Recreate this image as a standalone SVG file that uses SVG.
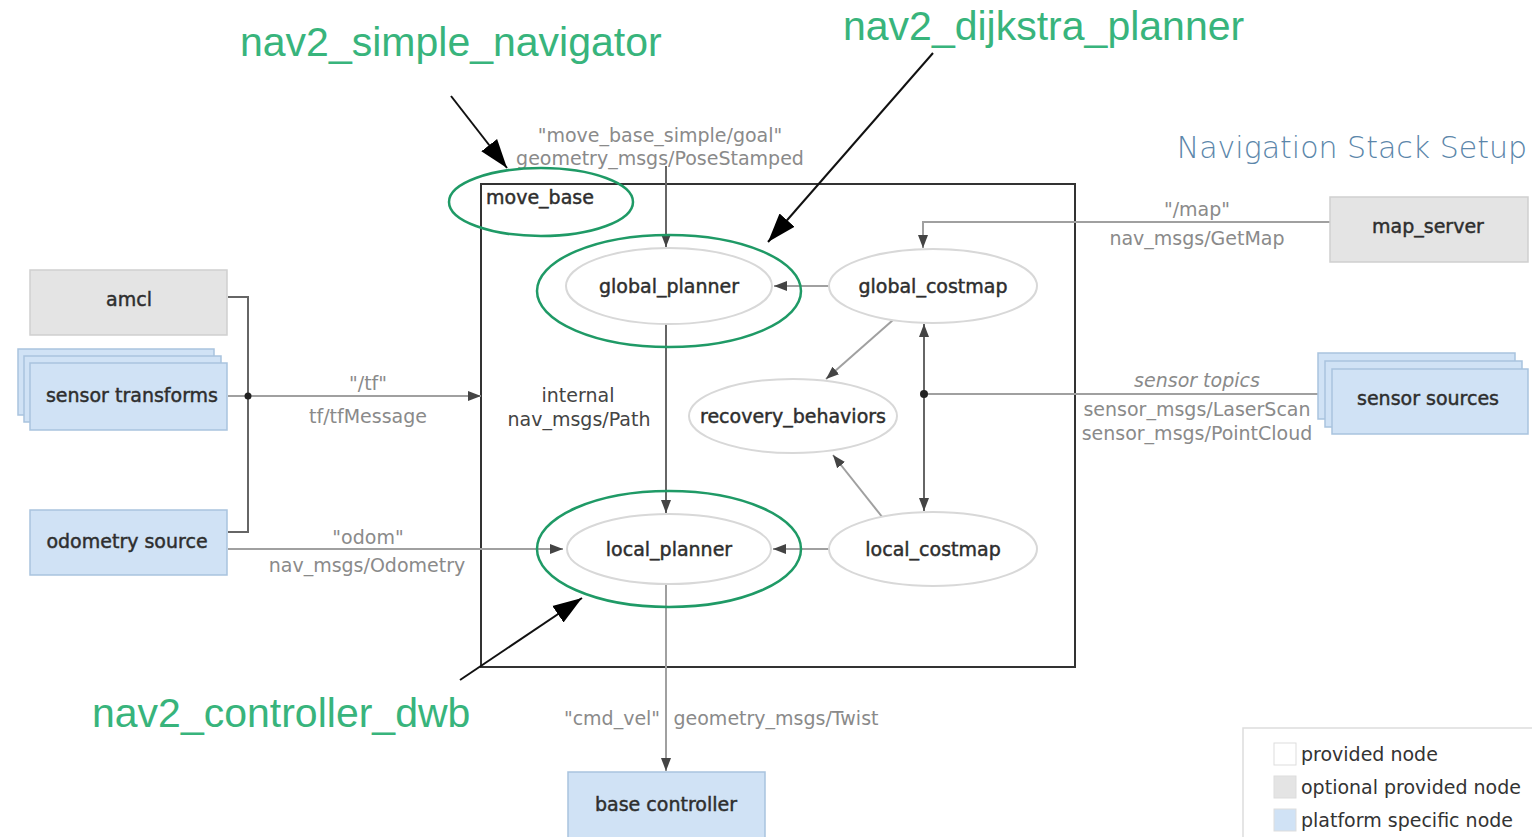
<svg xmlns="http://www.w3.org/2000/svg" width="1532" height="837" viewBox="0 0 1532 837">
  <style>
    .lbl { font-family: "DejaVu Sans", "Liberation Sans", sans-serif; font-size: 19px; fill: #8a8a8a; text-anchor: middle; }
    .node { font-family: "DejaVu Sans", "Liberation Sans", sans-serif; font-size: 19px; fill: #2e2e2e; stroke: #2e2e2e; stroke-width: 0.45; text-anchor: middle; }
    .nav2 { font-family: "Liberation Sans", Arial, sans-serif; font-size: 41px; fill: #38b47c; }
    .gray-box { fill: #e4e4e4; stroke: #cfcfcf; stroke-width: 1.5; }
    .blue-box { fill: #d0e2f5; stroke: #a9c3de; stroke-width: 1.5; }
    .oval { fill: #ffffff; stroke: #d8d8d8; stroke-width: 2; }
    .ring { fill: none; stroke: #1f9a66; stroke-width: 2.5; }
    .edge { fill: none; stroke: #a0a0a0; stroke-width: 2; }
    .edge-dark { fill: none; stroke: #666666; stroke-width: 2; }
    .pointer { fill: none; stroke: #111111; stroke-width: 2; }
    .legend { font-family: "DejaVu Sans", "Liberation Sans", sans-serif; font-size: 19px; fill: #333333; }
  </style>
  <defs>
    <marker id="tip" markerUnits="userSpaceOnUse" markerWidth="14" markerHeight="12" refX="13" refY="6" orient="auto">
      <path d="M0,1 L13,6 L0,11 Z" fill="#444444"/>
    </marker>
    <marker id="bigtip" markerUnits="userSpaceOnUse" markerWidth="30" markerHeight="24" refX="29" refY="12" orient="auto">
      <path d="M0,2 L29,12 L0,22 Z" fill="#000000"/>
    </marker>
  </defs>

  <rect width="1532" height="837" fill="#ffffff"/>

  <!-- move_base container -->
  <g id="move_base">
    <rect x="481" y="184" width="594" height="483" fill="none" stroke="#333333" stroke-width="2"/>
    <text x="486" y="204" class="node" text-anchor="start" style="text-anchor:start">move_base</text>
  </g>

  <!-- connectors -->
  <g id="connectors">
    <!-- goal into global_planner -->
    <path class="edge-dark" d="M666,166 L666,247" marker-end="url(#tip)"/>
    <!-- global_planner to local_planner -->
    <path class="edge-dark" d="M666,324 L666,513" marker-end="url(#tip)"/>
    <!-- local_planner to base controller -->
    <path class="edge" d="M666,585 L666,771" marker-end="url(#tip)"/>
    <!-- costmaps to planners -->
    <path class="edge" d="M829,286 L774,286" marker-end="url(#tip)"/>
    <path class="edge" d="M829,549 L773,549" marker-end="url(#tip)"/>
    <!-- costmaps to recovery -->
    <path class="edge" d="M893,320 L826,379" marker-end="url(#tip)"/>
    <path class="edge" d="M883,518 L833,455" marker-end="url(#tip)"/>
    <!-- map_server to global_costmap -->
    <path class="edge" d="M1330,222 L923,222 L923,248" marker-end="url(#tip)"/>
    <!-- sensor sources to costmaps -->
    <path class="edge" d="M1318,394 L924,394"/>
    <path class="edge-dark" d="M924,394 L924,324" marker-end="url(#tip)"/>
    <path class="edge-dark" d="M924,394 L924,511" marker-end="url(#tip)"/>
    <circle cx="924" cy="394" r="4" fill="#222222"/>
    <!-- tf tree -->
    <path class="edge-dark" d="M228,297 L248,297 L248,532 L228,532" stroke-width="1.5"/>
    <path class="edge" d="M228,396 L248,396"/>
    <path class="edge" d="M248,396 L481,396" marker-end="url(#tip)"/>
    <circle cx="248" cy="396" r="3.5" fill="#222222"/>
    <!-- odometry -->
    <path class="edge" d="M228,549 L563,549" marker-end="url(#tip)"/>

    <!-- edge labels -->
    <text x="660" y="142" class="lbl">"move_base_simple/goal"</text>
    <text x="660" y="165" class="lbl">geometry_msgs/PoseStamped</text>
    <text x="578" y="402" class="node" style="fill:#444;stroke:none">internal</text>
    <text x="579" y="426" class="node" style="fill:#444;stroke:none">nav_msgs/Path</text>
    <text x="368" y="390" class="lbl">"/tf"</text>
    <text x="368" y="423" class="lbl">tf/tfMessage</text>
    <text x="368" y="544" class="lbl">"odom"</text>
    <text x="367" y="572" class="lbl">nav_msgs/Odometry</text>
    <text x="1197" y="216" class="lbl">"/map"</text>
    <text x="1197" y="245" class="lbl">nav_msgs/GetMap</text>
    <text x="1197" y="387" class="lbl" font-style="italic">sensor topics</text>
    <text x="1197" y="416" class="lbl">sensor_msgs/LaserScan</text>
    <text x="1197" y="440" class="lbl">sensor_msgs/PointCloud</text>
    <text x="612" y="725" class="lbl">"cmd_vel"</text>
    <text x="776" y="725" class="lbl">geometry_msgs/Twist</text>
  </g>

  <!-- internal nodes -->
  <g id="global_planner">
    <ellipse class="oval" cx="669" cy="286" rx="103" ry="38"/>
    <text x="669" y="293" class="node">global_planner</text>
  </g>
  <g id="global_costmap">
    <ellipse class="oval" cx="933" cy="286" rx="104" ry="37"/>
    <text x="933" y="293" class="node">global_costmap</text>
  </g>
  <g id="recovery_behaviors">
    <ellipse class="oval" cx="793" cy="416" rx="104" ry="37"/>
    <text x="793" y="423" class="node">recovery_behaviors</text>
  </g>
  <g id="local_planner">
    <ellipse class="oval" cx="669" cy="549" rx="102" ry="35"/>
    <text x="669" y="556" class="node">local_planner</text>
  </g>
  <g id="local_costmap">
    <ellipse class="oval" cx="933" cy="549" rx="104" ry="37"/>
    <text x="933" y="556" class="node">local_costmap</text>
  </g>

  <!-- external nodes -->
  <g id="amcl">
    <rect class="gray-box" x="30" y="270" width="197" height="65"/>
    <text x="129" y="306" class="node">amcl</text>
  </g>
  <g id="sensor_transforms">
    <rect class="blue-box" x="18" y="349" width="196" height="66"/>
    <rect class="blue-box" x="24" y="356" width="197" height="66"/>
    <rect class="blue-box" x="30" y="363" width="197" height="67"/>
    <text x="132" y="402" class="node">sensor transforms</text>
  </g>
  <g id="odometry_source">
    <rect class="blue-box" x="30" y="510" width="197" height="65"/>
    <text x="127" y="548" class="node">odometry source</text>
  </g>
  <g id="map_server">
    <rect class="gray-box" x="1330" y="197" width="198" height="65"/>
    <text x="1428" y="233" class="node">map_server</text>
  </g>
  <g id="sensor_sources">
    <rect class="blue-box" x="1318" y="353" width="197" height="66"/>
    <rect class="blue-box" x="1325" y="361" width="197" height="66"/>
    <rect class="blue-box" x="1332" y="369" width="196" height="65"/>
    <text x="1428" y="405" class="node">sensor sources</text>
  </g>
  <g id="base_controller">
    <rect class="blue-box" x="568" y="772" width="197" height="70"/>
    <text x="666" y="811" class="node">base controller</text>
  </g>

  <!-- title -->
  <text x="1527" y="158" font-family="DejaVu Sans, sans-serif" font-size="30" font-weight="300" fill="#5b86aa" text-anchor="end">Navigation Stack Setup</text>

  <!-- nav2 annotations -->
  <g id="nav2_simple_navigator">
    <ellipse class="ring" cx="541" cy="202" rx="92" ry="34"/>
    <text x="240" y="56" class="nav2">nav2_simple_navigator</text>
    <path class="pointer" d="M451,96 L507,168" marker-end="url(#bigtip)"/>
  </g>
  <g id="nav2_dijkstra_planner">
    <ellipse class="ring" cx="669" cy="291" rx="132" ry="56"/>
    <text x="843" y="40" class="nav2">nav2_dijkstra_planner</text>
    <path class="pointer" d="M933,53 L768,242" marker-end="url(#bigtip)"/>
  </g>
  <g id="nav2_controller_dwb">
    <ellipse class="ring" cx="669" cy="549" rx="132" ry="58"/>
    <text x="92" y="727" class="nav2">nav2_controller_dwb</text>
    <path class="pointer" d="M460,680 L582,598" marker-end="url(#bigtip)"/>
  </g>

  <!-- legend -->
  <g id="legend">
    <rect x="1243" y="728" width="290" height="112" fill="#ffffff" stroke="#dddddd" stroke-width="1.5"/>
    <rect x="1274" y="743" width="22" height="22" fill="#ffffff" stroke="#dddddd"/>
    <rect x="1274" y="776" width="22" height="22" fill="#e4e4e4" stroke="#dddddd"/>
    <rect x="1274" y="809" width="22" height="22" fill="#d0e2f5" stroke="#dddddd"/>
    <text x="1301" y="761" class="legend">provided node</text>
    <text x="1301" y="794" class="legend">optional provided node</text>
    <text x="1301" y="827" class="legend">platform specific node</text>
  </g>
</svg>
